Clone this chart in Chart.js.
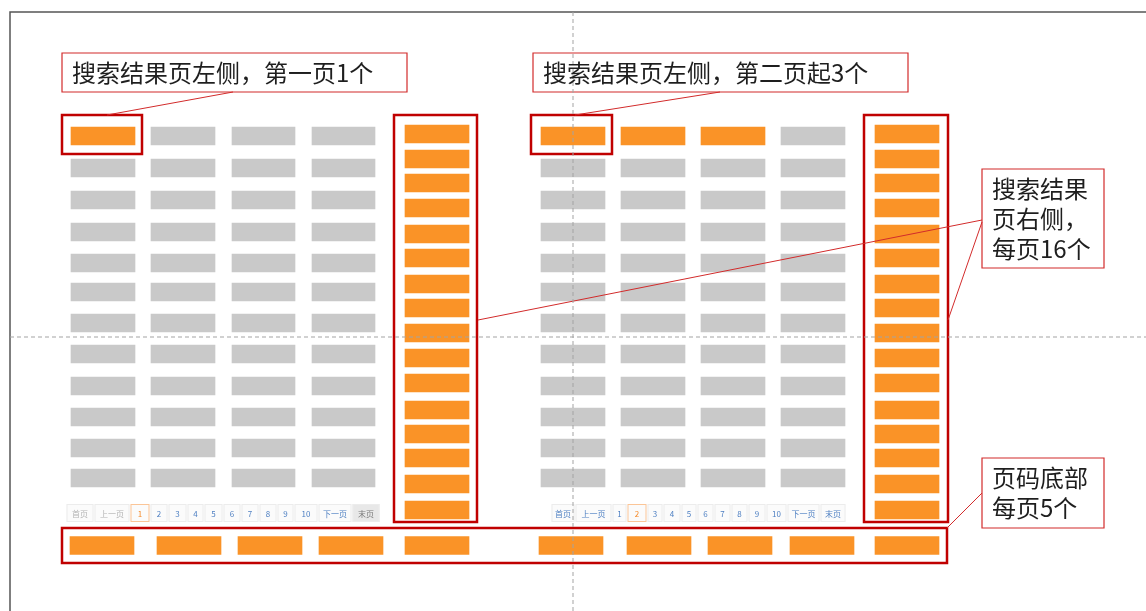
<!DOCTYPE html>
<html>
<head>
<meta charset="utf-8">
<script src="https://cdn.jsdelivr.net/npm/chart.js@4.4.1/dist/chart.umd.min.js"></script>
<style>
  html, body { margin: 0; padding: 0; background: #fff; overflow: hidden; }
  canvas { display: block; }
</style>
</head>
<body>
<canvas id="c" width="1146" height="611" style="width:1146px;height:611px"></canvas>
<script>
// Diagram laid out in a 1146 x 611 value space (y grows downward).
const gridRows = [136, 168, 200, 232, 263, 292, 323, 354, 386, 417, 448, 478];
const leftPageCols = [[71, 135], [151, 215], [232, 295], [312, 375]];
const rightPageCols = [[541, 605], [621, 685], [701, 765], [781, 845]];
const firstRowHits = [1, 3]; // page 1: 1 slot, page 2+: 3 slots

const sideRows = [134, 159, 183, 208, 234, 258, 284, 308, 333, 358, 383, 410, 434, 458, 484, 510];
const sideCols = [[405, 469], [875, 939]];

const bottomRow = 545.5;
const bottomCols = [[70, 134], [157, 221], [238, 302], [319, 383], [405, 469],
                    [539, 603], [627, 691], [708, 772], [790, 854], [875, 939]];

const pagerLabels = ['首页', '上一页', '1', '2', '3', '4', '5', '6', '7', '8', '9', '10', '下一页', '末页'];
const pagerEdges = [
  [66, 94, 130, 150, 168, 187, 204, 223, 241, 259, 277, 294, 318, 352, 380],
  [551, 575, 612, 627, 647, 663, 681, 697, 714, 731, 748, 766, 787, 820, 846],
];
const pagerRange = [504, 522];
const pagerCurrent = ['1', '2'];
const pagerDisabled = [['首页', '上一页'], []];
const pagerShaded = [['末页'], []];

const slotBoxes = [[62, 115, 142, 154], [531, 115, 612, 154], [394, 115, 477, 522],
                   [864, 115, 948, 522], [62, 528, 947, 563]];
const noteBoxes = [[62, 53, 407, 92], [533, 53, 908, 92], [982, 169, 1104, 268], [982, 458, 1104, 528]];
const noteLines = [
  ['搜索结果页左侧，第一页1个'],
  ['搜索结果页左侧，第二页起3个'],
  ['搜索结果', '页右侧，', '每页16个'],
  ['页码底部', '每页5个'],
];
const leaders = [
  [[233, 92], [107, 115]],
  [[720, 92], [575, 115]],
  [[982, 220], [478, 320]],
  [[982, 222], [948, 320]],
  [[982, 493], [947, 528]],
];
const guides = [[[573, 12], [573, 611]], [[10, 337], [1146, 337]]];
const frame = [[[10, 611], [10, 12], [1146, 12]]];

const ORANGE = '#fa9327';
const GRAY = '#c9c9c9';
const GAP = { x: null, y: null };

// cells
const cells = [];
const cellColors = [];
function addCell(y, range, on) {
  cells.push({ y, x: range });
  cellColors.push(on ? ORANGE : GRAY);
}
[leftPageCols, rightPageCols].forEach((cols, p) => {
  gridRows.forEach((y, r) => cols.forEach((c, k) => addCell(y, c, r === 0 && k < firstRowHits[p])));
});
sideCols.forEach(c => sideRows.forEach(y => addCell(y, c, true)));
bottomCols.forEach(c => addCell(bottomRow, c, true));

function outline(boxes) {
  const pts = [];
  boxes.forEach(([x0, y0, x1, y1]) => {
    pts.push({ x: x0, y: y0 }, { x: x1, y: y0 }, { x: x1, y: y1 }, { x: x0, y: y1 },
             { x: x0, y: y0 }, { x: x1, y: y0 }, GAP);
  });
  return pts;
}
function polylines(lines) {
  const pts = [];
  lines.forEach(line => { line.forEach(([x, y]) => pts.push({ x, y })); pts.push(GAP); });
  return pts;
}
function lineSet(data, color, width, extra = {}) {
  return Object.assign({
    type: 'line', data, borderColor: color, borderWidth: width,
    pointRadius: 0, fill: false, tension: 0, spanGaps: false,
    borderJoinStyle: 'miter', borderCapStyle: 'butt',
  }, extra);
}

const overlayPlugin = {
  id: 'overlay',
  beforeDatasetsDraw(chart) {
    const { ctx } = chart;
    const sx = chart.scales.x, sy = chart.scales.y;
    const top = sy.getPixelForValue(pagerRange[0]);
    const bottom = sy.getPixelForValue(pagerRange[1]);
    ctx.save();
    ctx.font = '8px "Noto Sans CJK SC", sans-serif';
    ctx.textAlign = 'center';
    ctx.textBaseline = 'middle';
    pagerEdges.forEach((edges, p) => {
      pagerLabels.forEach((label, i) => {
        const x0 = sx.getPixelForValue(edges[i]) + 0.5;
        const x1 = sx.getPixelForValue(edges[i + 1]) - 0.5;
        const current = label === pagerCurrent[p];
        const shaded = pagerShaded[p].includes(label);
        ctx.fillStyle = shaded ? '#e8e8e8' : '#fbfbfb';
        ctx.fillRect(x0, top, x1 - x0, bottom - top);
        ctx.lineWidth = 1;
        ctx.strokeStyle = current ? '#fbc597' : '#ececec';
        ctx.strokeRect(x0 + 0.5, top + 0.5, x1 - x0 - 1, bottom - top - 1);
        if (current) ctx.fillStyle = '#f68a28';
        else if (pagerDisabled[p].includes(label)) ctx.fillStyle = '#b3b3b3';
        else if (shaded) ctx.fillStyle = '#7a7a7a';
        else ctx.fillStyle = '#4d7fc2';
        ctx.fillText(label, (x0 + x1) / 2, (top + bottom) / 2 + 0.5);
      });
    });
    ctx.restore();
  },
  afterDatasetsDraw(chart) {
    const { ctx } = chart;
    const sx = chart.scales.x, sy = chart.scales.y;
    const lineHeight = 30;
    ctx.save();
    ctx.font = '24px "Noto Sans CJK SC", sans-serif';
    ctx.fillStyle = '#1e1e1e';
    ctx.textAlign = 'left';
    ctx.textBaseline = 'middle';
    noteBoxes.forEach(([x0, y0, x1, y1], i) => {
      const lines = noteLines[i];
      const mid = (sy.getPixelForValue(y0) + sy.getPixelForValue(y1)) / 2;
      const first = mid - (lines.length - 1) * lineHeight / 2;
      lines.forEach((t, k) => ctx.fillText(t, sx.getPixelForValue(x0) + 10, first + k * lineHeight));
    });
    ctx.restore();
  },
};

new Chart(document.getElementById('c'), {
  type: 'bar',
  data: {
    datasets: [
      lineSet(polylines(guides), '#a3a3a3', 1, { borderDash: [4, 3] }),
      lineSet(polylines(frame), '#555555', 1.5),
      lineSet(polylines(leaders), '#d22b2b', 1),
      lineSet(outline(noteBoxes), '#d22b2b', 1.2),
      lineSet(outline(slotBoxes), '#c00000', 2.5),
      {
        type: 'bar',
        indexAxis: 'y',
        data: cells,
        backgroundColor: cellColors,
        borderWidth: 0,
        borderSkipped: false,
        barThickness: 18,
      },
    ],
  },
  options: {
    responsive: false,
    animation: false,
    events: [],
    layout: { padding: 0 },
    plugins: { legend: { display: false }, tooltip: { enabled: false } },
    scales: {
      x: { type: 'linear', min: 0, max: 1146, display: false, offset: false },
      y: { type: 'linear', min: 0, max: 611, reverse: true, display: false, offset: false },
    },
  },
  plugins: [overlayPlugin],
});
</script>
</body>
</html>
